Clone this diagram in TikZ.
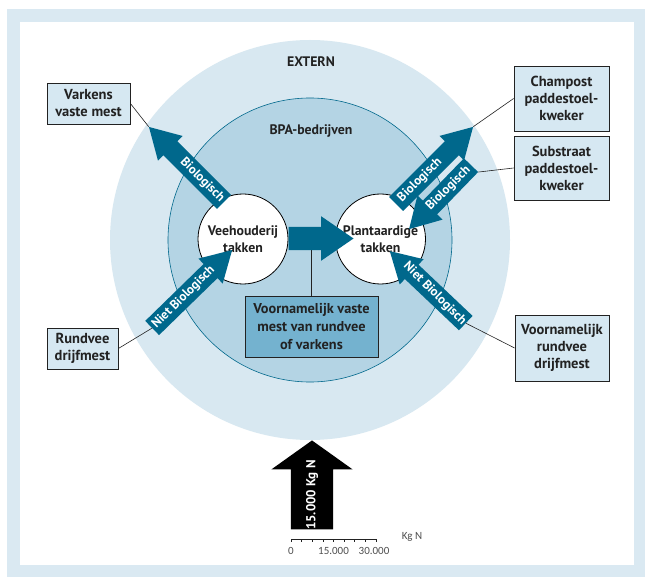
\documentclass[tikz,border=0pt]{standalone}
\usepackage{fontspec}
\setmainfont{PT Sans}
\newfontfamily\scalefnt{Carlito}
\usetikzlibrary{shapes.arrows,calc}

\definecolor{frameblue}{RGB}{218,233,242}
\definecolor{outerblue}{RGB}{216,232,241}
\definecolor{innerblue}{RGB}{180,212,228}
\definecolor{boxblue}{RGB}{214,232,242}
\definecolor{midblue}{RGB}{116,178,207}
\definecolor{arrowteal}{RGB}{0,104,140}
\definecolor{txt}{RGB}{34,34,34}

\newcommand\fatarrow[3]{%
  \path let \p1=($(#3)-(#2)$), \n1={atan2(\y1,\x1)}, \n2={veclen(\x1,\y1)} in
    node[fat, rotate=\n1, minimum height=\n2] (#1) at ($(#2)!0.5!(#3)$) {};}

\begin{document}
\begin{tikzpicture}[x=1pt,y=-1pt,
  lbl/.style={draw=txt, line width=0.8pt, fill=boxblue, align=center,
    font=\bfseries\fontsize{14.5}{17}\selectfont, text=txt, inner sep=0pt},
  fat/.style={single arrow, fill=arrowteal, single arrow tip angle=60,
    single arrow head extend=7.5pt, inner xsep=0pt, inner ysep=9.7pt},
  atext/.style={text=white, font=\bfseries\fontsize{12.8}{14}\selectfont, inner sep=0pt},
  ctext/.style={circle, minimum size=90pt, fill=white, draw=black, line width=0.8pt,
    align=center, inner sep=0pt, text=txt, font=\bfseries\fontsize{13.8}{16.5}\selectfont},
  conn/.style={draw=txt, line width=0.6pt},
  title/.style={text=txt, font=\bfseries\fontsize{13.8}{16}\selectfont},
  scl/.style={text=txt!80, font=\scalefnt\fontsize{11}{12}\selectfont, inner sep=0pt}
]
\useasboundingbox (0,0) rectangle (645,577);
% frame
\fill[frameblue] (7,9) rectangle (645,577);
\fill[white] (20,22) rectangle (634,565);
% circles
\fill[outerblue] (310,240) circle[radius=200];
\filldraw[fill=innerblue, draw=arrowteal, line width=0.6pt] (310,240) circle[radius=142];
\node[title] (extern) at (311,62) {EXTERN};
\node[title] (bpa) at (311,131) {BPA-bedrijven};

% middle box and its line
\node[lbl, fill=midblue, minimum width=133pt, minimum height=61pt, font=\bfseries\fontsize{14.3}{17.8}\selectfont]
  (midbox) at (311.5,326.5) {Voornamelijk vaste\\mest van rundvee\\of varkens};
\draw[conn] (midbox.north) -- (midbox.north |- 0,240);

% branch circles
\node[ctext] (vee) at (243,239) {Veehouderij\\takken};
\node[ctext] (plant) at (380.5,239) {Plantaardige\\takken};

% label boxes
\node[lbl, minimum width=83pt, minimum height=41pt] (varkens) at (88.5,103.5) {Varkens\\vaste mest};
\node[lbl, minimum width=95pt, minimum height=65pt] (champost) at (561.5,98.5) {Champost\\paddestoel-\\kweker};
\node[lbl, minimum width=95pt, minimum height=64pt] (substraat) at (561.5,168) {Substraat\\paddestoel-\\kweker};
\node[lbl, minimum width=71pt, minimum height=41pt] (rundvee) at (82.5,348.5) {Rundvee\\drijfmest};
\node[lbl, minimum width=94pt, minimum height=66pt] (vrundvee) at (562,348) {Voornamelijk\\rundvee\\drijfmest};

% fat arrows
\fatarrow{a1}{230,208}{155,133}
\fatarrow{a2}{146,334}{226,256}
\fatarrow{a3}{390,210}{467,133}
\fatarrow{a4}{477,159}{415,223}
\fatarrow{a5}{472,329}{396,257}
\node[atext, rotate=-45] (t1) at ($(230,208)!0.37!(155,133)$) {Biologisch};
\node[atext, rotate=45]  (t2) at ($(146,334)!0.47!(226,256)$) {Niet Biologisch};
\node[atext, rotate=45]  (t3) at ($(390,210)!0.39!(467,133)$) {Biologisch};
\node[atext, rotate=45]  (t4) at ($(477,159)!0.46!(415,223)$) {Biologisch};
\node[atext, rotate=-45] (t5) at ($(472,329)!0.49!(396,257)$) {Niet Biologisch};

% connectors
\draw[conn] (varkens.east) -- (a1.tip);
\draw[conn] (champost.west) -- (a3.tip);
\draw[conn] (substraat.west) -- (a4.after tail);
\draw[conn] (rundvee.east) -- (a2.tail);
\draw[conn] (vrundvee.west) -- (a5.tail);

% middle arrow
\node[single arrow, fill=arrowteal, single arrow tip angle=69, single arrow head extend=10.5pt,
  inner xsep=0pt, inner ysep=11.5pt, minimum height=65pt] (mida) at (312.5,238.5) {};

% scale arrow
\node[single arrow, fill=black, single arrow tip angle=109, single arrow head extend=19.5pt,
  inner xsep=0pt, inner ysep=21pt, minimum height=89pt, rotate=90] (scalearrow) at (312,492.5) {};
\node[text=white, font=\bfseries\fontsize{13}{14}\selectfont, rotate=90, inner sep=0pt] (scaletext) at (312,495) {15.000 Kg N};

% scale bar
\coordinate (s0) at (291,539);
\coordinate (s2) at (376,539);
\draw[line width=0.8pt, draw=txt] (s0) -- (s2);
\foreach \i in {0,...,8} {
  \draw[line width=0.7pt, draw=txt] ($(s0)!\i/8!(s2)$) -- ++(0,2.8);
}
\node[scl] (l0) at (291,551) {0};
\node[scl] (l1) at (333.5,551) {15.000};
\node[scl] (l2) at (374,551) {30.000};
\node[scl] (kgn) at (412,537) {Kg N};
\end{tikzpicture}
\end{document}
